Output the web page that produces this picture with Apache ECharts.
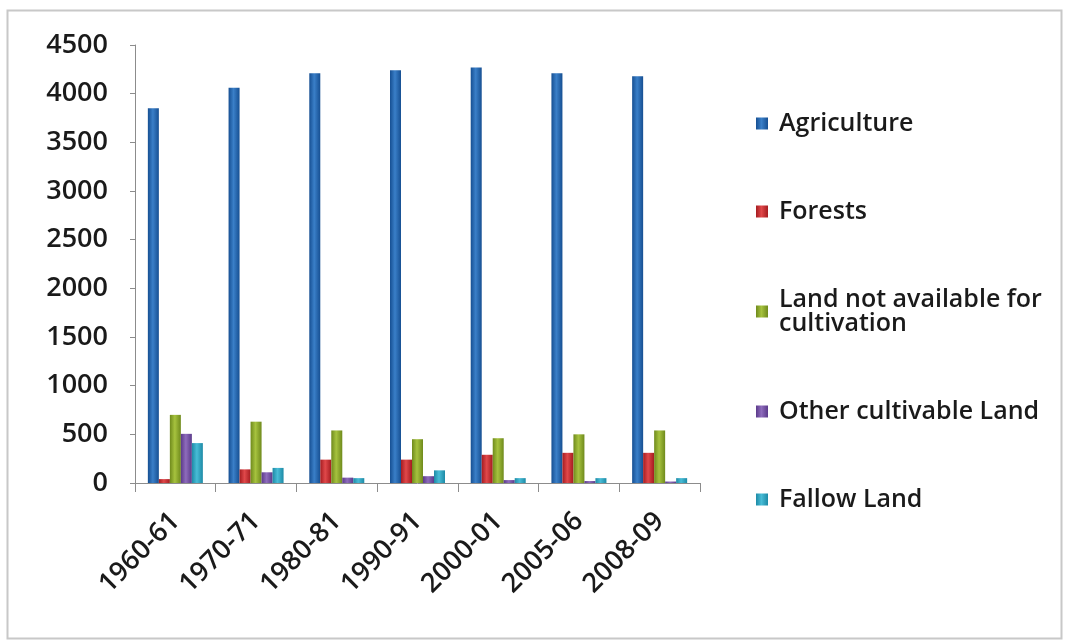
<!DOCTYPE html>
<html>
<head>
<meta charset="utf-8">
<script src="https://cdn.jsdelivr.net/npm/echarts@6/dist/echarts.min.js"></script>
<style>
html,body{margin:0;padding:0;background:#ffffff;}
#chart{width:1068px;height:644px;}
</style>
</head>
<body>
<div id="chart"></div>
<script>
var categories = ['1960-61','1970-71','1980-81','1990-91','2000-01','2005-06','2008-09'];
var seriesNames = ['Agriculture','Forests','Land not available for\ncultivation','Other cultivable Land','Fallow Land'];
var agriculture = [3850, 4060, 4210, 4240, 4270, 4210, 4180];
var forests = [40, 140, 240, 240, 290, 310, 310];
var landNotAvailable = [700, 630, 540, 450, 460, 500, 540];
var otherCultivable = [505, 110, 55, 70, 30, 20, 15];
var fallowLand = [410, 155, 50, 130, 50, 50, 50];
var yTicks = [0, 500, 1000, 1500, 2000, 2500, 3000, 3500, 4000, 4500];

var values = [agriculture, forests, landNotAvailable, otherCultivable, fallowLand];
var palette = [
  ['#164f92', '#3a7fc8'],
  ['#a51c20', '#e0484a'],
  ['#6f8a1c', '#a6c23e'],
  ['#5b3a8a', '#8e6cbc'],
  ['#1d8aa6', '#48bcd6']
];
function grad(c) {
  return new echarts.graphic.LinearGradient(0, 0, 1, 0, [
    {offset: 0, color: c[0]},
    {offset: 0.45, color: c[1]},
    {offset: 1, color: c[0]}
  ]);
}
var FONT = 'Open Sans';
var chart = echarts.init(document.getElementById('chart'));
var series = seriesNames.map(function (n, i) {
  return {
    name: n,
    type: 'bar',
    data: values[i],
    barWidth: 11,
    barGap: '0%',
    itemStyle: {color: grad(palette[i])}
  };
});
chart.setOption({
  backgroundColor: '#ffffff',
  animation: false,
  graphic: [{
    type: 'rect',
    shape: {x: 7.5, y: 10.5, width: 1054, height: 628},
    style: {fill: 'none', stroke: '#c8c8c8', lineWidth: 2},
    silent: true
  }],
  grid: {left: 135, right: 368, top: 45, bottom: 161},
  legend: {
    orient: 'vertical',
    left: 751,
    top: 106,
    itemGap: 63,
    itemWidth: 12,
    itemHeight: 12,
    icon: 'rect',
    textStyle: {fontFamily: FONT, fontSize: 25, fontWeight: 600, color: '#1a1a1a', lineHeight: 24, padding: [0, 0, 0, 6]},
    data: seriesNames
  },
  xAxis: {
    type: 'category',
    data: categories,
    axisLine: {lineStyle: {color: '#8c8c8c', width: 1}},
    axisTick: {show: true, length: 9, lineStyle: {color: '#8c8c8c'}},
    axisLabel: {rotate: 45, fontFamily: FONT, fontSize: 27, fontWeight: 600, color: '#1a1a1a', margin: 34, interval: 0}
  },
  yAxis: {
    type: 'value',
    min: 0,
    max: 4500,
    interval: 500,
    splitLine: {show: false},
    axisLine: {show: true, lineStyle: {color: '#8c8c8c', width: 1}},
    axisTick: {show: true, length: 5, lineStyle: {color: '#8c8c8c'}},
    axisLabel: {
      fontFamily: FONT, fontSize: 27, fontWeight: 600, color: '#1a1a1a', margin: 27,
      formatter: function (v) { return yTicks.indexOf(v) >= 0 ? String(v) : ''; }
    }
  },
  series: series
});
</script>
</body>
</html>
